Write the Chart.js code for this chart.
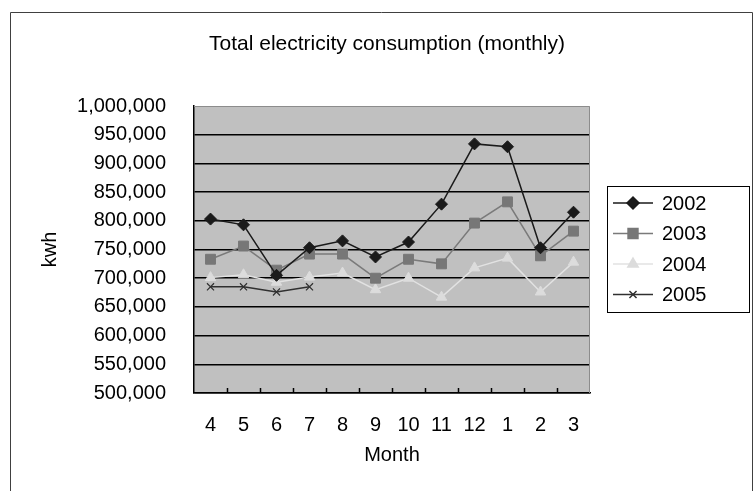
<!DOCTYPE html>
<html>
<head>
<meta charset="utf-8">
<script src="https://cdn.jsdelivr.net/npm/chart.js@4.4.1/dist/chart.umd.min.js"></script>
<style>
  html, body { margin: 0; padding: 0; background: #fff; }
  canvas { display: block; }
</style>
</head>
<body>
<canvas id="chart" width="755" height="491"></canvas>
<script>
// monthly data, fiscal year April -> March
const months = ['4', '5', '6', '7', '8', '9', '10', '11', '12', '1', '2', '3'];
const y2002 = [803000, 793000, 705000, 753000, 765000, 737000, 763000, 829000, 934000, 929000, 753000, 815000];
const y2003 = [733000, 756000, 714000, 742000, 742000, 700000, 733000, 725000, 796000, 833000, 739000, 782000];
const y2004 = [701000, 706000, 693000, 702000, 709000, 680000, 700000, 667000, 718000, 735000, 676000, 728000];
const y2005 = [685000, 685000, 676000, 685000];
const yTicks = { min: 500000, max: 1000000, step: 50000 };
const chartTitle = 'Total electricity consumption (monthly)';

const FONT = 'Arial, "Liberation Sans", sans-serif';

// frame, plot background, title, inward category ticks and the boxed legend
const excelLook = {
  id: 'excelLook',
  beforeDraw(chart) {
    const { ctx, chartArea: a } = chart;
    ctx.save();
    ctx.strokeStyle = '#404040';
    ctx.lineWidth = 1;
    ctx.beginPath();
    ctx.moveTo(10.5, chart.height + 2);
    ctx.lineTo(10.5, 12.5);
    ctx.lineTo(752.5, 12.5);
    ctx.lineTo(752.5, chart.height + 2);
    ctx.stroke();
    ctx.fillStyle = '#c0c0c0';
    ctx.fillRect(a.left, a.top, a.right - a.left, a.bottom - a.top);
    // title, centred over the plot
    ctx.fillStyle = '#000';
    ctx.font = '21px ' + FONT;
    ctx.textAlign = 'center';
    ctx.textBaseline = 'middle';
    ctx.fillText(chartTitle, (a.left + a.right) / 2 - 5, 44);
    ctx.restore();
  },
  afterDatasetsDraw(chart) {
    const { ctx, chartArea: a, scales } = chart;
    ctx.save();
    // top / right border of plot in grey
    ctx.strokeStyle = '#8c8c8c';
    ctx.lineWidth = 1;
    ctx.beginPath();
    ctx.moveTo(a.left, a.top + 0.5);
    ctx.lineTo(a.right - 0.5, a.top + 0.5);
    ctx.lineTo(a.right - 0.5, a.bottom);
    ctx.stroke();
    // small inward ticks between categories
    ctx.strokeStyle = '#000';
    ctx.lineWidth = 1.5;
    const x = scales.x;
    for (let i = 0; i < months.length - 1; i++) {
      const px = Math.round((x.getPixelForValue(i) + x.getPixelForValue(i + 1)) / 2) + 0.5;
      ctx.beginPath();
      ctx.moveTo(px, a.bottom);
      ctx.lineTo(px, a.bottom - 5);
      ctx.stroke();
    }
    ctx.restore();
  },
  afterDraw(chart) {
    const { ctx } = chart;
    const box = { left: 607, top: 186, right: 749, bottom: 312 };
    ctx.save();
    ctx.strokeStyle = '#000';
    ctx.lineWidth = 1;
    ctx.strokeRect(box.left + 0.5, box.top + 0.5, box.right - box.left, box.bottom - box.top);
    ctx.font = '20px ' + FONT;
    ctx.textBaseline = 'middle';
    ctx.textAlign = 'left';
    chart.data.datasets.forEach((ds, i) => {
      const y = box.top + 17 + i * 30.5;
      ctx.strokeStyle = ds.borderColor;
      ctx.lineWidth = ds.borderWidth;
      ctx.beginPath();
      ctx.moveTo(613, y);
      ctx.lineTo(653, y);
      ctx.stroke();
      ctx.fillStyle = ds.pointBackgroundColor;
      ctx.strokeStyle = ds.pointBorderColor;
      Chart.helpers.drawPoint(ctx, {
        pointStyle: ds.pointStyle,
        radius: ds.pointRadius,
        rotation: 0,
        borderWidth: ds.pointBorderWidth
      }, 633, y);
      ctx.fillStyle = '#000';
      ctx.fillText(ds.label, 662, y + 1);
    });
    ctx.restore();
  }
};

new Chart(document.getElementById('chart'), {
  type: 'line',
  data: {
    labels: months,
    datasets: [
      {
        label: '2002', data: y2002,
        borderColor: '#1a1a1a', borderWidth: 1.5,
        pointStyle: 'rectRot', pointRadius: 6,
        pointBackgroundColor: '#1a1a1a', pointBorderColor: '#1a1a1a', pointBorderWidth: 1
      },
      {
        label: '2003', data: y2003,
        borderColor: '#7a7a7a', borderWidth: 1.5,
        pointStyle: 'rect', pointRadius: 7,
        pointBackgroundColor: '#777777', pointBorderColor: '#777777', pointBorderWidth: 1
      },
      {
        label: '2004', data: y2004,
        borderColor: '#e2e2e2', borderWidth: 1.5,
        pointStyle: 'triangle', pointRadius: 6,
        pointBackgroundColor: '#dcdcdc', pointBorderColor: '#dcdcdc', pointBorderWidth: 1
      },
      {
        label: '2005', data: y2005,
        borderColor: '#303030', borderWidth: 1.5,
        pointStyle: 'crossRot', pointRadius: 5,
        pointBackgroundColor: '#303030', pointBorderColor: '#303030', pointBorderWidth: 1.2
      }
    ]
  },
  options: {
    responsive: false,
    animation: false,
    devicePixelRatio: 1,
    layout: { padding: { top: 106, left: 20, right: 165, bottom: 20 } },
    elements: { line: { tension: 0 } },
    plugins: {
      legend: { display: false },
      tooltip: { enabled: false },
      title: { display: false }
    },
    scales: {
      x: {
        offset: true,
        grid: { display: false, drawTicks: false },
        border: { display: true, color: '#000', width: 1.5 },
        ticks: { color: '#000', padding: 20, font: { family: FONT, size: 20 }, maxRotation: 0, autoSkip: false },
        title: { display: true, text: 'Month', color: '#000', font: { family: FONT, size: 20 }, padding: { top: 0, bottom: 4 } },
        afterFit(scale) { scale.height = 78; }
      },
      y: {
        min: yTicks.min, max: yTicks.max,
        grid: {
          drawTicks: false,
          lineWidth: 1.5,
          color: (c) => (c.tick && c.tick.value === yTicks.max ? 'rgba(0,0,0,0)' : '#000')
        },
        border: { display: true, color: '#000', width: 1.5 },
        ticks: {
          stepSize: yTicks.step,
          color: '#000',
          padding: 28,
          font: { family: FONT, size: 20 },
          callback: (v) => v.toLocaleString('en-US')
        },
        title: { display: true, text: 'kwh', color: '#000', font: { family: FONT, size: 20 }, padding: { top: 18, bottom: 0 } },
        afterFit(scale) { scale.width = 174; }
      }
    }
  },
  plugins: [excelLook]
});
</script>
</body>
</html>
